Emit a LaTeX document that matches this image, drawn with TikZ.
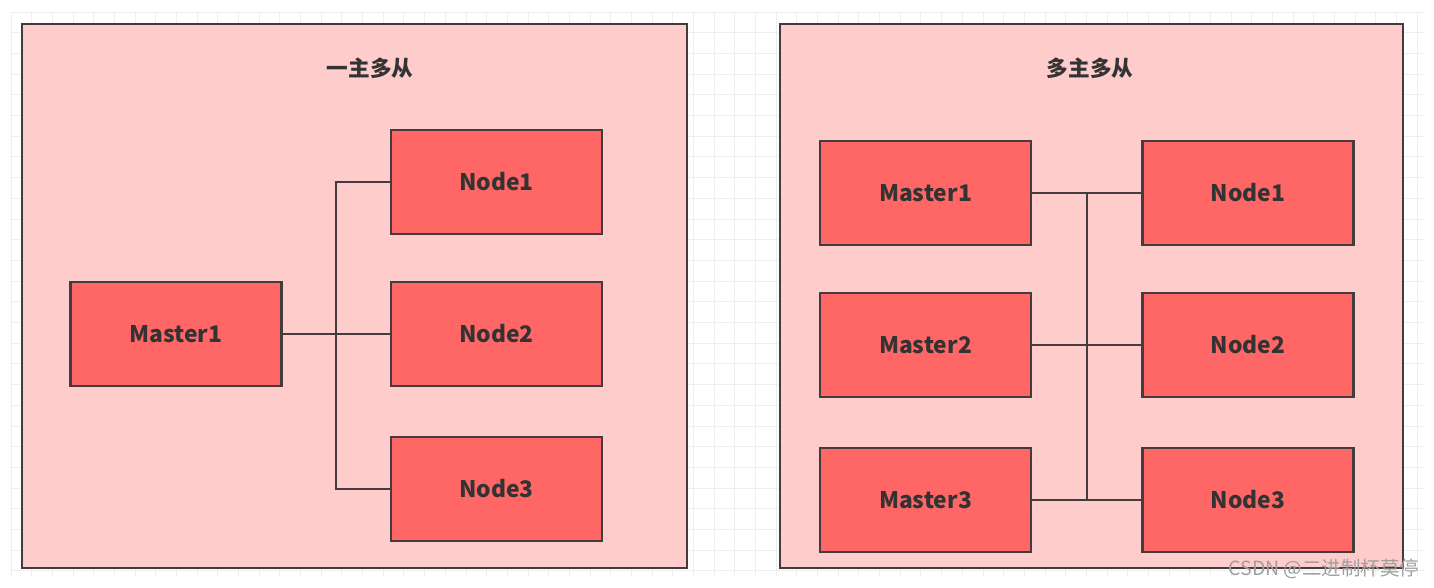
\documentclass[tikz,border=0pt]{standalone}
\usepackage{fontspec}
\setmainfont{Noto Sans CJK SC}
\usetikzlibrary{positioning}
\usepackage{xcolor}

\definecolor{panelfill}{HTML}{FFCCCC}
\definecolor{boxfill}{HTML}{FF6666}
\definecolor{edgecol}{HTML}{443C3C}
\definecolor{textcol}{HTML}{333333}
\definecolor{gridcol}{HTML}{EEEEEE}

\tikzset{
	panel/.style={draw=edgecol, fill=panelfill, line width=1.6pt},
	box/.style={draw=edgecol, fill=boxfill, line width=1.4pt, minimum width=4.22cm, minimum height=2.08cm, inner sep=0pt, text=textcol, font=\fontsize{13}{15}\selectfont\bfseries},
	title/.style={text=textcol, font=\fontsize{12.3}{14}\selectfont\bfseries},
	link/.style={draw=edgecol, line width=1.15pt},
	gridline/.style={draw=gridcol, line width=0.5pt}
}

\begin{document}
\begin{tikzpicture}[x=0.02cm, y=-0.02cm]
				\useasboundingbox (0,0) rectangle (1434,588);
				\fill[white] (0,0) rectangle (1434,588);
				% background grid
				\foreach \i in {0,...,68} \draw[gridline] ({11+20.68*\i},12) -- ({11+20.68*\i},577);
				\foreach \j in {0,...,27} \draw[gridline] (11,{12+20.7*\j}) -- (1425,{12+20.7*\j});

				% one master, many nodes
				\draw[panel] (22,24) rectangle (687,568);
				\node[title] (titleL) at (370,68) {一主多从};
				\node[box] (lm1) at (176,334) {Master1};
				\node[box] (ln1) at (496.5,182) {Node1};
				\node[box] (ln2) at (496.5,334) {Node2};
				\node[box] (ln3) at (496.5,489) {Node3};
				\coordinate (busL) at (336,334);
				\draw[link] (lm1.east) -- (ln2.west);
				\draw[link] (ln1.west) -| (busL) |- (ln3.west);

				% many masters, many nodes
				\draw[panel] (780,24) rectangle (1403,568);
				\node[title] (titleR) at (1090,68) {多主多从};
				\node[box] (rm1) at (925.5,193) {Master1};
				\node[box] (rm2) at (925.5,345) {Master2};
				\node[box] (rm3) at (925.5,500) {Master3};
				\node[box] (rn1) at (1248,193) {Node1};
				\node[box] (rn2) at (1248,345) {Node2};
				\node[box] (rn3) at (1248,500) {Node3};
				\coordinate (busR) at (1087,0);
				\draw[link] (rm1.east) -- (rn1.west);
				\draw[link] (rm2.east) -- (rn2.west);
				\draw[link] (rm3.east) -- (rn3.west);
				\draw[link] (busR |- rm1.east) -- (busR |- rm3.east);

				\node[text=gray!75, font=\fontsize{11.1}{13}\selectfont] (mark) at (1324,569) {CSDN @二进制杯莫停};
			\end{tikzpicture}
\end{document}
